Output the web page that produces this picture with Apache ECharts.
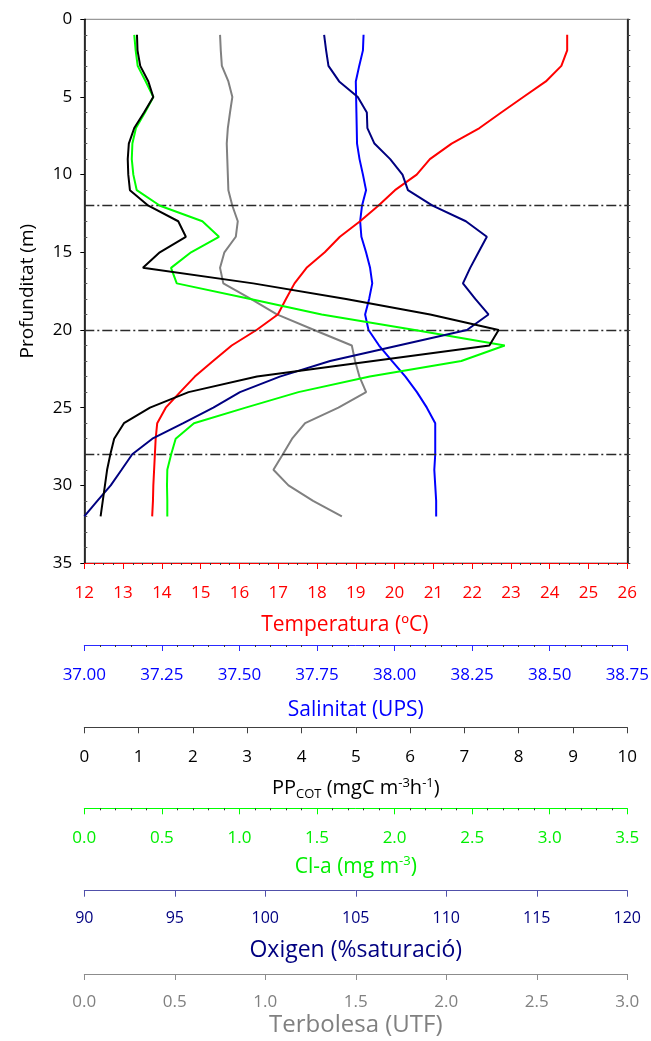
<!DOCTYPE html>
<html>
<head>
<meta charset="utf-8">
<title>Perfils verticals</title>
<script src="https://cdn.jsdelivr.net/npm/echarts@6/dist/echarts.min.js"></script>
<style>
  html, body { margin: 0; padding: 0; background: #ffffff; }
  #chart { width: 651px; height: 1041px; }
</style>
</head>
<body>
<div id="chart"></div>
<script>
// Depth of each sample (m)
const depth = [1, 2, 3, 4, 5, 6, 7, 8, 9, 10, 11, 12, 13, 14, 15, 16,
               17, 18, 19, 20, 21, 22, 23, 24, 25, 26, 27, 28, 29, 30, 31, 32];

// Temperature (ºC)
const temperatura = [24.45, 24.45, 24.30, 23.90, 23.32, 22.75, 22.19, 21.47, 20.91, 20.57, 20.01, 19.58,
                     19.11, 18.59, 18.20, 17.73, 17.42, 17.20, 16.99, 16.44, 15.80, 15.32, 14.85, 14.47,
                     14.10, 13.88, 13.84, 13.82, 13.80, 13.78, 13.77, 13.75];

// Salinity (UPS)
const salinitat = [37.900, 37.898, 37.886, 37.875, 37.876, 37.877, 37.878, 37.879, 37.887, 37.898, 37.908, 37.895,
                   37.889, 37.893, 37.908, 37.921, 37.928, 37.918, 37.905, 37.916, 37.950, 37.992, 38.035, 38.072,
                   38.104, 38.131, 38.131, 38.131, 38.128, 38.131, 38.134, 38.134];

// Primary production (mgC m-3 h-1)
const ppCot = [0.97, 0.98, 1.03, 1.18, 1.27, 1.10, 0.92, 0.82, 0.80, 0.81, 0.84, 1.18,
               1.73, 1.87, 1.39, 1.08, 3.11, 4.82, 6.37, 7.63, 7.46, 5.32, 3.18, 1.92,
               1.21, 0.73, 0.55, 0.48, 0.42, 0.38, 0.34, 0.30];

// Chlorophyll a (mg m-3)
const clorofila = [0.322, 0.331, 0.344, 0.396, 0.445, 0.391, 0.333, 0.310, 0.306, 0.316, 0.338, 0.488,
                   0.761, 0.868, 0.688, 0.559, 0.596, 1.07, 1.53, 2.13, 2.71, 2.43, 1.84, 1.38,
                   1.04, 0.707, 0.589, 0.56, 0.535, 0.533, 0.535, 0.535];

// Dissolved oxygen (% saturation)
const oxigen = [103.25, 103.36, 103.49, 104.08, 105.11, 105.61, 105.64, 106.03, 106.90, 107.58, 107.88, 109.24,
                111.08, 112.24, 111.78, 111.32, 110.92, 111.60, 112.33, 111.14, 107.36, 103.58, 100.80, 98.60,
                97.13, 95.47, 93.76, 92.65, 92.06, 91.46, 90.72, 90.00];

// Turbidity (UTF)
const terbolesa = [0.750, 0.754, 0.760, 0.796, 0.818, 0.805, 0.793, 0.787, 0.790, 0.793, 0.796, 0.818,
                   0.848, 0.837, 0.774, 0.750, 0.768, 0.920, 1.064, 1.270, 1.478, 1.496, 1.520, 1.557,
                   1.404, 1.220, 1.148, 1.097, 1.045, 1.128, 1.264, 1.423];

// Depths of the dash-dot reference lines (m)
const capes = [12, 20, 28];

const FONT = "'Open Sans', 'Noto Sans', sans-serif";

function bottomAxis(o) {
  return {
    type: 'value',
    position: 'bottom',
    gridIndex: 0,
    min: o.min,
    max: o.max,
    interval: o.interval,
    offset: o.offset,
    axisLine: { show: true, onZero: false, lineStyle: { color: o.lineColor, width: 1 } },
    axisTick: { show: true, length: 6, lineStyle: { color: o.lineColor, width: 1 } },
    minorTick: { show: !!o.minor, splitNumber: o.minor || 5, length: 2, lineStyle: { color: '#333', width: 1 } },
    axisLabel: {
      color: o.labelColor,
      fontSize: o.labelSize || 17,
      fontFamily: FONT,
      margin: o.labelMargin,
      formatter: function (v) { return v.toFixed(o.decimals); }
    },
    splitLine: { show: false },
    minorSplitLine: { show: false },
    name: o.name,
    nameLocation: 'middle',
    nameGap: o.nameGap,
    nameMoveOverlap: false,
    nameTextStyle: Object.assign({ fontFamily: FONT, color: o.labelColor, fontSize: o.nameSize || 21 }, o.nameStyle || {})
  };
}

function profile(name, values, xIndex, color, z) {
  return {
    type: 'line',
    name: name,
    xAxisIndex: xIndex,
    yAxisIndex: 0,
    data: values.map(function (v, i) { return [v, depth[i]]; }),
    symbol: 'none',
    lineStyle: { color: color, width: 2 },
    itemStyle: { color: color },
    z: z,
    silent: true,
    animation: false
  };
}

const chart = echarts.init(document.getElementById('chart'), null, { renderer: 'canvas' });

const turbiditySeries = profile('Terbolesa', terbolesa, 5, '#808080', 2);
turbiditySeries.markLine = {
  symbol: 'none',
  silent: true,
  animation: false,
  label: { show: false },
  lineStyle: { color: '#2a2a2a', type: [10, 3, 2, 3], width: 1.3 },
  data: capes.map(function (d) { return { yAxis: d }; })
};

chart.setOption({
  animation: false,
  backgroundColor: '#ffffff',
  textStyle: { fontFamily: FONT },
  grid: {
    left: 84.3,
    right: 23.7,
    top: 19.3,
    bottom: 478,
    containLabel: false,
    outerBoundsMode: 'none',
    show: true,
    borderColor: '#808080',
    borderWidth: 1,
    backgroundColor: 'transparent'
  },
  xAxis: [
    bottomAxis({ min: 12, max: 26, interval: 1, offset: 0, lineColor: '#ff0000', labelColor: '#ff0000',
                 decimals: 0, minor: 4, labelMargin: 22, name: 'Temperatura (ºC)', nameGap: 51.5,
                 nameStyle: { padding: [0, 22, 0, 0] } }),
    bottomAxis({ min: 37, max: 38.75, interval: 0.25, offset: 82, lineColor: '#2a2aff', labelColor: '#0000ff',
                 decimals: 2, minor: 5, labelMargin: 21.5, name: 'Salinitat (UPS)', nameGap: 54.5 }),
    bottomAxis({ min: 0, max: 10, interval: 1, offset: 164.3, lineColor: '#404040', labelColor: '#000000',
                 decimals: 0, labelMargin: 21,
                 name: '{a|PP}{b|COT}{a| (mgC m}{c|-3}{a|h}{c|-1}{a|)}', nameGap: 49,
                 nameStyle: { rich: {
                   a: { fontFamily: FONT, fontSize: 20, lineHeight: 24, color: '#000000' },
                   b: { fontFamily: FONT, fontSize: 13, lineHeight: 8, verticalAlign: 'bottom', color: '#000000' },
                   c: { fontFamily: FONT, fontSize: 13, lineHeight: 8, verticalAlign: 'top', color: '#000000' }
                 } } }),
    bottomAxis({ min: 0, max: 3.5, interval: 0.5, offset: 245.3, lineColor: '#00ff00', labelColor: '#00ee00',
                 decimals: 1, minor: 5, labelMargin: 21.5,
                 name: '{a|Cl-a (mg m}{c|-3}{a|)}', nameGap: 46.5,
                 nameStyle: { rich: {
                   a: { fontFamily: FONT, fontSize: 21, lineHeight: 24, color: '#00ee00' },
                   c: { fontFamily: FONT, fontSize: 13, lineHeight: 8, verticalAlign: 'top', color: '#00ee00' }
                 } } }),
    bottomAxis({ min: 90, max: 120, interval: 5, offset: 327.7, lineColor: '#5050aa', labelColor: '#000080',
                 decimals: 0, labelSize: 16, labelMargin: 19.5, name: 'Oxigen (%saturació)', nameGap: 47.8,
                 nameSize: 23 }),
    bottomAxis({ min: 0, max: 3, interval: 0.5, offset: 411, lineColor: '#8c8c8c', labelColor: '#808080',
                 decimals: 1, labelMargin: 19.2, name: 'Terbolesa (UTF)', nameGap: 39, nameSize: 24 })
  ],
  yAxis: [
    {
      type: 'value', inverse: true, min: 0, max: 35, interval: 5, position: 'left',
      axisLine: { show: true, onZero: false, lineStyle: { color: '#000000', width: 1.5 } },
      axisTick: { show: true, length: 4, lineStyle: { color: '#000000' } },
      axisLabel: { color: '#000000', fontSize: 17, fontFamily: FONT, margin: 12 },
      splitLine: { show: false },
      name: 'Profunditat (m)', nameLocation: 'middle', nameGap: 47, nameRotate: 90,
      nameMoveOverlap: false,
      nameTextStyle: { color: '#000000', fontSize: 19, fontFamily: FONT }
    },
    {
      type: 'value', inverse: true, min: 0, max: 35, interval: 5, position: 'left',
      axisLine: { show: false, onZero: false },
      axisTick: { show: false, inside: true },
      minorTick: { show: true, splitNumber: 5, length: 3, lineStyle: { color: '#555555' } },
      axisLabel: { show: false },
      splitLine: { show: false },
      minorSplitLine: { show: false }
    },
    {
      type: 'value', inverse: true, min: 0, max: 35, interval: 1, position: 'right',
      axisLine: { show: true, onZero: false, lineStyle: { color: '#000000', width: 1.5 } },
      axisTick: { show: true, length: 3, lineStyle: { color: '#444444' } },
      axisLabel: { show: false },
      splitLine: { show: false }
    }
  ],
  series: [
    turbiditySeries,
    profile('Salinitat', salinitat, 1, '#0000ff', 3),
    profile('Temperatura', temperatura, 0, '#ff0000', 4),
    profile('Cl-a', clorofila, 3, '#00ff00', 5),
    profile('Oxigen', oxigen, 4, '#000080', 6),
    profile('PP', ppCot, 2, '#000000', 7)
  ]
});
</script>
</body>
</html>
